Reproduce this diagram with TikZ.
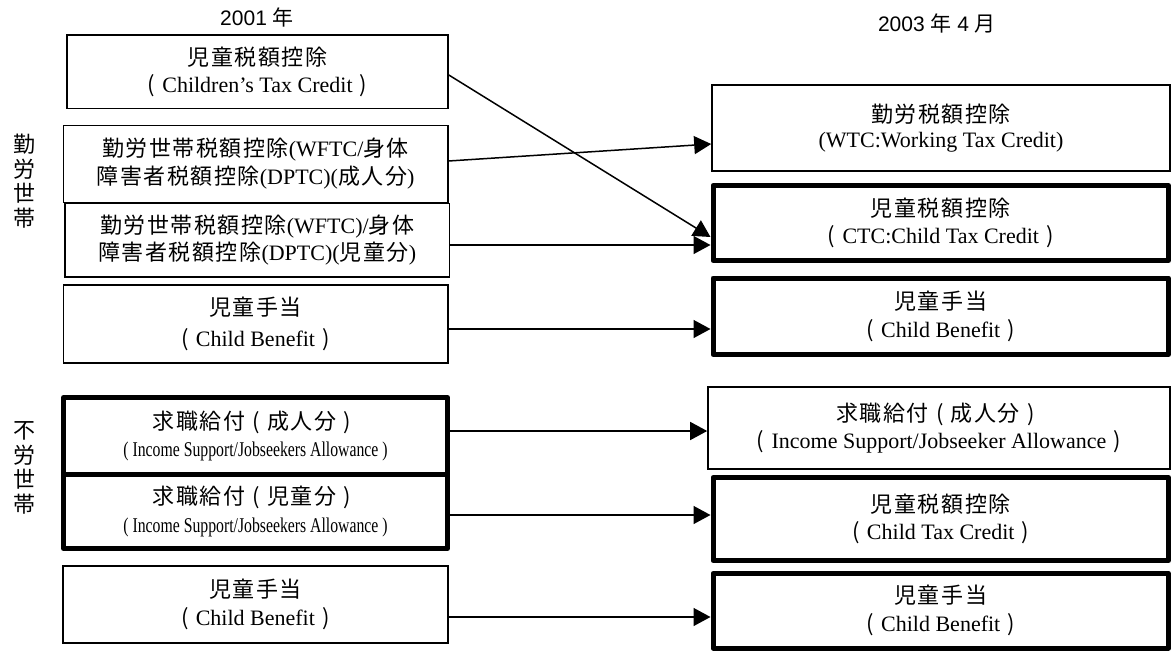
\documentclass[tikz,border=0pt]{standalone}
\usepackage{fontspec}
\usepackage{graphicx}
\setmainfont{Liberation Serif}
\setsansfont{Liberation Sans}
\newfontfamily\Jfont{Noto Sans CJK JP}[LetterSpace=7]
\newfontfamily\Jplain{Noto Sans CJK JP}
\newcommand\J[1]{{\Jfont #1}}
\newcommand\lp{\makebox[22pt][c]{\Jplain (}}
\newcommand\rp{\makebox[22pt][c]{\Jplain )}}
\newcommand\cond[1]{\scalebox{0.75}[1]{\fontsize{21}{25}\selectfont #1}}
\usetikzlibrary{arrows.meta}
\begin{document}
\begin{tikzpicture}[x=1pt,y=-1pt,
  box/.style={draw, line width=1.6pt, inner sep=0pt, align=center, font=\fontsize{22}{27.5}\selectfont},
  tbox/.style={box, line width=5pt, line join=round},
  arr/.style={line width=1.5pt, -{Triangle[length=17pt,width=18pt]}},
  lab/.style={font=\fontsize{22}{24.5}\selectfont\Jplain, align=center, inner sep=0pt},
  ttl/.style={font=\fontsize{21}{25}\selectfont\sffamily, inner sep=0pt}]
\useasboundingbox (0,0) rectangle (1173,651);

% titles
\node[ttl] (T1) at (257,17) {2001 \J{年}};
\node[ttl] (T2) at (937,23) {2003 \J{年} 4 \J{月}};

% group labels
\node[lab] (G1) at (24,181) {勤\\労\\世\\帯};
\node[lab] (G2) at (24,468) {不\\労\\世\\帯};

% left boxes
\node[box, minimum width=381pt, minimum height=73.5pt] (L1) at (257.5,71.75)
  {\J{児童税額控除}\\\lp Children’s Tax Credit\rp};
\node[box, minimum width=384.4pt, minimum height=77pt] (L2) at (255.5,163.8)
  {\J{勤労世帯税額控除}(WFTC/\J{身体}\\\J{障害者税額控除}(DPTC)(\J{成人分})};
\node[box, minimum width=384.3pt, minimum height=73.4pt] (L3) at (257.2,240)
  {\J{勤労世帯税額控除}(WFTC)/\J{身体}\\\J{障害者税額控除}(DPTC)(\J{児童分})};
\node[box, minimum width=384.4pt, minimum height=77.7pt] (L4) at (255.5,323.85)
  {\J{児童手当}\\[4pt]\lp Child Benefit\rp};
\node[tbox, minimum width=384pt, minimum height=76.5pt] (L5) at (255.5,435.75)
  {\J{求職給付}\lp\J{成人分}\rp\\\cond{( Income Support/Jobseekers Allowance )}};
\node[tbox, minimum width=384pt, minimum height=74.5pt] (L6) at (255.5,511.25)
  {\J{求職給付}\lp\J{児童分}\rp\\\cond{( Income Support/Jobseekers Allowance )}};
\node[box, minimum width=384.7pt, minimum height=76.7pt] (L7) at (255.35,604.35)
  {\J{児童手当}\\\lp Child Benefit\rp};

% right boxes
\node[box, minimum width=458pt, minimum height=86pt] (R1) at (941,128)
  {\J{勤労税額控除}\\[-2pt](WTC:Working Tax Credit)};
\node[tbox, minimum width=455.5pt, minimum height=75pt] (R2) at (940.75,223)
  {\J{児童税額控除}\\\lp CTC:Child Tax Credit\rp};
\node[tbox, minimum width=455.5pt, minimum height=76.5pt] (R3) at (940.75,316.25)
  {\J{児童手当}\\\lp Child Benefit\rp};
\node[box, minimum width=462pt, minimum height=82.3pt] (R4) at (939,427.85)
  {\J{求職給付}\lp\J{成人分}\rp\\\lp Income Support/Jobseeker Allowance\rp};
\node[tbox, minimum width=455.5pt, minimum height=83pt] (R5) at (940.75,519)
  {\J{児童税額控除}\\\lp Child Tax Credit\rp};
\node[tbox, minimum width=455.5pt, minimum height=74.7pt] (R6) at (940.75,610.65)
  {\J{児童手当}\\\lp Child Benefit\rp};

% arrows
\draw[arr] (L1.east |- 0,75) -- (R2.west |- 0,237);
\draw[arr] (L2.east |- 0,161) -- (R1.west |- 0,144);
\draw[arr] (L3.east |- 0,245) -- (R2.west |- 0,245);
\draw[arr] (L4.east |- 0,329) -- (R3.west |- 0,329);
\draw[arr] (L5.east |- 0,431) -- (R4.west |- 0,431);
\draw[arr] (L6.east |- 0,515) -- (R5.west |- 0,515);
\draw[arr] (L7.east |- 0,617) -- (R6.west |- 0,617);
\end{tikzpicture}
\end{document}
